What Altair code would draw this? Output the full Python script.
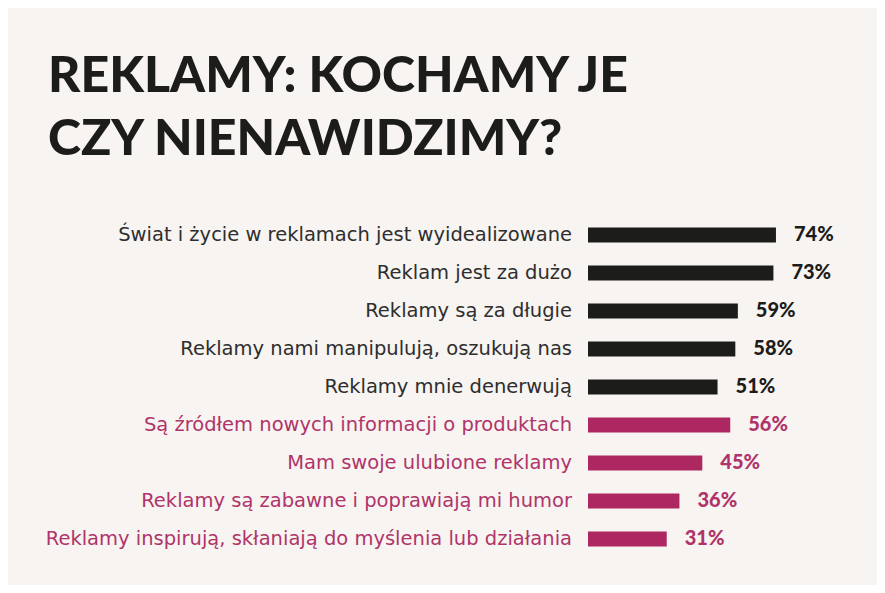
import altair as alt
import pandas as pd

labels = [
    "Świat i życie w reklamach jest wyidealizowane",
    "Reklam jest za dużo",
    "Reklamy są za długie",
    "Reklamy nami manipulują, oszukują nas",
    "Reklamy mnie denerwują",
    "Są źródłem nowych informacji o produktach",
    "Mam swoje ulubione reklamy",
    "Reklamy są zabawne i poprawiają mi humor",
    "Reklamy inspirują, skłaniają do myślenia lub działania",
]
values = [74, 73, 59, 58, 51, 56, 45, 36, 31]
groups = ["neg"] * 5 + ["pos"] * 4
value_labels = ["74%", "73%", "59%", "58%", "51%", "56%", "45%", "36%", "31%"]
title_lines = ["REKLAMY: KOCHAMY JE", "CZY NIENAWIDZIMY?"]

BG = "#f7f4f1"
BLACK = "#1c1c1b"
LABEL_DARK = "#2e2e2e"
MAGENTA = "#ad2760"
MAGENTA_TXT = "#b0346a"

df = pd.DataFrame({"label": labels, "value": values, "group": groups, "vtext": value_labels})

y = alt.Y("label:N", sort=labels, axis=None,
          scale=alt.Scale(paddingInner=0.605, paddingOuter=0.3025))
x_scale = alt.Scale(domain=[-228.35, 113.78])

base = alt.Chart(df)

bars = base.mark_bar().encode(
    x=alt.X("value:Q", scale=x_scale, axis=None),
    y=y,
    color=alt.Color("group:N", scale=alt.Scale(domain=["neg", "pos"], range=[BLACK, MAGENTA]), legend=None),
)

lab_color = alt.condition("datum.group == 'neg'", alt.value(LABEL_DARK), alt.value(MAGENTA_TXT))
val_color = alt.condition("datum.group == 'neg'", alt.value(BLACK), alt.value(MAGENTA_TXT))

cat_text = base.mark_text(align="right", baseline="middle", dx=-16, fontSize=19.5,
                          font="DejaVu Sans").encode(
    x=alt.datum(0, scale=x_scale),
    y=y,
    text="label:N",
    color=lab_color,
)

val_text = base.mark_text(align="left", baseline="middle", dx=18, fontSize=20,
                          font="Lato", fontWeight=900).encode(
    x=alt.X("value:Q", scale=x_scale),
    y=y,
    text="vtext:N",
    color=val_color,
)

chart = (bars + cat_text + val_text).properties(
    width=869,
    height=342,
    background=BG,
    padding={"left": 0, "right": 0, "top": 44, "bottom": 27},
    title=alt.TitleParams(
        text=title_lines, font="Lato", fontSize=50, fontWeight=900, color=BLACK,
        anchor="start", dx=40, offset=51, lineHeight=63,
    ),
).configure_view(stroke=None)

chart.save("out.html", embed_options={"renderer": "svg", "actions": False})
